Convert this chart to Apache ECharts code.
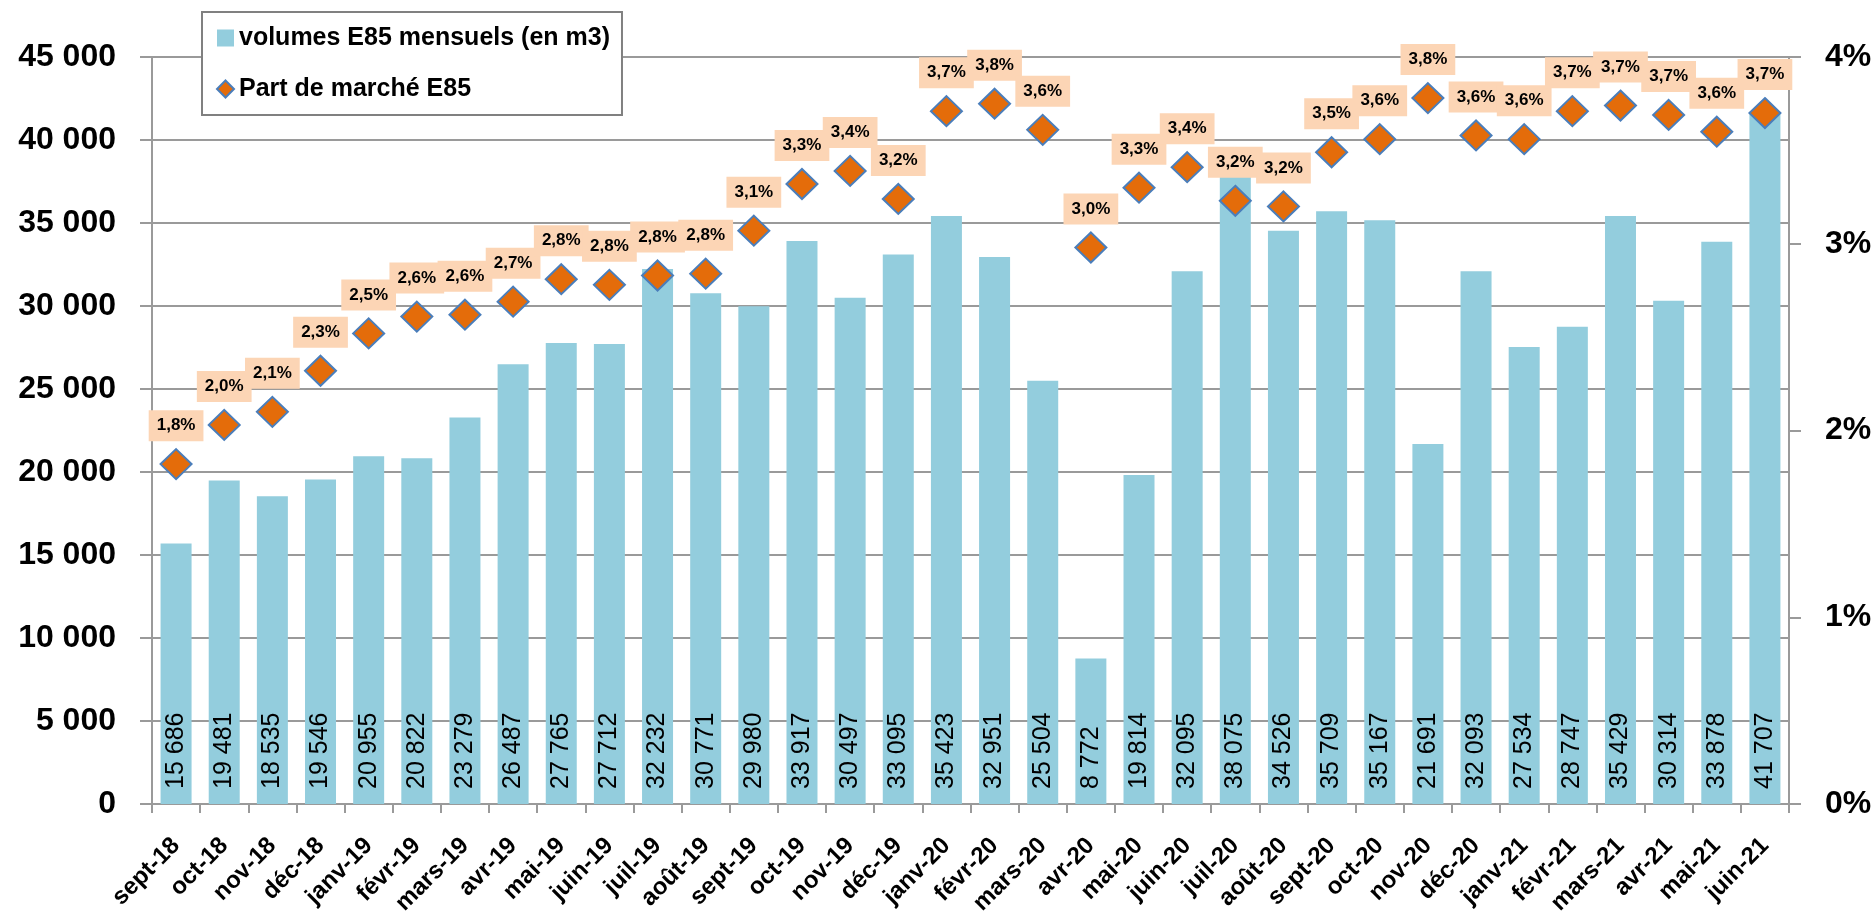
<!DOCTYPE html>
<html>
<head>
<meta charset="utf-8">
<script src="https://cdn.jsdelivr.net/npm/echarts@6/dist/echarts.min.js"></script>
<style>
html, body { margin: 0; padding: 0; background: #fff; }
#chart { width: 1874px; height: 912px; }
</style>
</head>
<body>
<div id="chart"></div>
<script>
var months = ['sept-18', 'oct-18', 'nov-18', 'déc-18',
  'janv-19', 'févr-19', 'mars-19', 'avr-19', 'mai-19', 'juin-19', 'juil-19', 'août-19', 'sept-19', 'oct-19', 'nov-19', 'déc-19',
  'janv-20', 'févr-20', 'mars-20', 'avr-20', 'mai-20', 'juin-20', 'juil-20', 'août-20', 'sept-20', 'oct-20', 'nov-20', 'déc-20',
  'janv-21', 'févr-21', 'mars-21', 'avr-21', 'mai-21', 'juin-21'];

var volumes = [15686, 19481, 18535, 19546,
  20955, 20822, 23279, 26487, 27765, 27712, 32232, 30771, 29980, 33917, 30497, 33095,
  35423, 32951, 25504, 8772, 19814, 32095, 38075, 34526, 35709, 35167, 21691, 32093,
  27534, 28747, 35429, 30314, 33878, 41707];

// part de marché en %
var parts = [1.82, 2.03, 2.10, 2.32,
  2.52, 2.61, 2.62, 2.69, 2.81, 2.78, 2.83, 2.84, 3.07, 3.32, 3.39, 3.24,
  3.71, 3.75, 3.61, 2.98, 3.30, 3.41, 3.23, 3.20, 3.49, 3.56, 3.78, 3.58,
  3.56, 3.71, 3.74, 3.69, 3.60, 3.70];

var volTicks = { min: 0, max: 45000, step: 5000 };
var partTicks = { min: 0, max: 4, step: 1 };

var nameVol = 'volumes E85 mensuels (en m3)';
var namePart = 'Part de marché E85';

var font = '"Liberation Sans", Arial, sans-serif';
var gray = '#9A9A9A';

function sep(v) {
  return String(v).replace(/\B(?=(\d{3})+(?!\d))/g, ' ');
}

var chart = echarts.init(document.getElementById('chart'));

chart.setOption({
  animation: false,
  backgroundColor: '#fff',
  textStyle: { fontFamily: font },
  grid: { left: 152, right: 85, top: 57, bottom: 108, containLabel: false, outerBoundsMode: 'none' },
  legend: {
    orient: 'vertical',
    left: 202,
    top: 12,
    padding: [11, 12, 11, 14],
    borderColor: '#808080',
    borderWidth: 2,
    backgroundColor: '#fff',
    itemWidth: 17,
    itemHeight: 17,
    itemGap: 21,
    textStyle: { fontFamily: font, fontSize: 25, fontWeight: 'bold', color: '#000', lineHeight: 30 },
    data: [{ name: nameVol, icon: 'rect' }, { name: namePart, icon: 'diamond' }]
  },
  xAxis: {
    type: 'category',
    data: months,
    boundaryGap: true,
    axisLine: { lineStyle: { color: gray, width: 2 } },
    axisTick: { show: true, length: 9, lineStyle: { color: gray, width: 2 } },
    axisLabel: {
      interval: 0,
      rotate: 45,
      margin: 38,
      color: '#000',
      fontFamily: font,
      fontSize: 24,
      fontWeight: 'bold'
    }
  },
  yAxis: [{
    type: 'value',
    min: volTicks.min,
    max: volTicks.max,
    interval: volTicks.step,
    axisLine: { show: true, lineStyle: { color: gray, width: 2 } },
    axisTick: { show: true, length: 12, lineStyle: { color: gray, width: 2 } },
    splitLine: { lineStyle: { color: gray, width: 2 } },
    axisLabel: {
      margin: 36,
      color: '#000',
      fontFamily: font,
      fontSize: 32,
      fontWeight: 'bold',
      formatter: sep
    }
  }, {
    type: 'value',
    position: 'right',
    min: partTicks.min,
    max: partTicks.max,
    interval: partTicks.step,
    axisLine: { show: true, lineStyle: { color: gray, width: 2 } },
    axisTick: { show: true, length: 12, lineStyle: { color: gray, width: 2 } },
    splitLine: { show: false },
    axisLabel: {
      margin: 36,
      color: '#000',
      fontFamily: font,
      fontSize: 32,
      fontWeight: 'bold',
      formatter: '{value}%'
    }
  }],
  series: [{
    name: nameVol,
    type: 'bar',
    data: volumes,
    barWidth: 31,
    itemStyle: { color: '#93CDDD' },
    label: {
      show: true,
      position: 'insideBottom',
      rotate: 90,
      align: 'left',
      verticalAlign: 'middle',
      distance: 15,
      color: '#000',
      fontFamily: font,
      fontSize: 25,
      formatter: function (p) { return sep(p.value); }
    }
  }, {
    name: namePart,
    type: 'scatter',
    yAxisIndex: 1,
    data: parts,
    symbol: 'diamond',
    symbolSize: [31, 30],
    itemStyle: { color: '#E46C0A', borderColor: '#4A7EBB', borderWidth: 2, opacity: 1 },
    label: {
      show: true,
      position: 'top',
      distance: 7,
      color: '#000',
      fontFamily: font,
      fontSize: 17,
      fontWeight: 'bold',
      backgroundColor: '#FCD5B5',
      padding: [7, 8, 7, 8],
      formatter: function (p) { return p.value.toFixed(1).replace('.', ',') + '%'; }
    }
  }]
});
</script>
</body>
</html>
